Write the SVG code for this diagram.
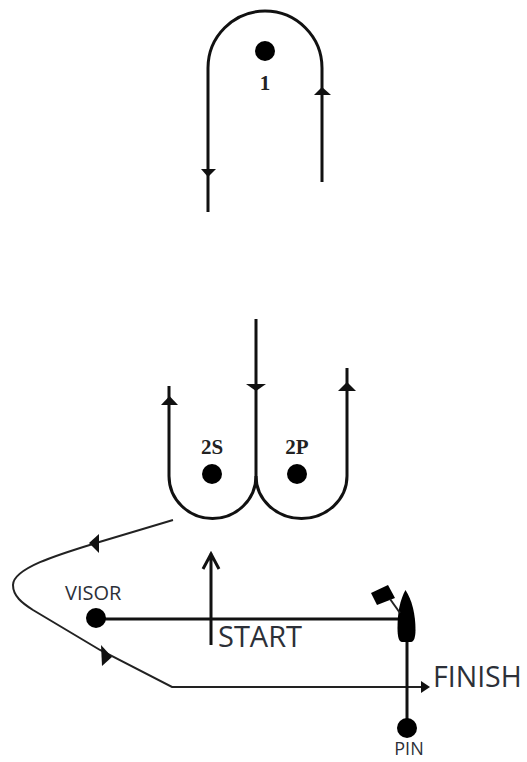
<svg xmlns="http://www.w3.org/2000/svg" width="527" height="762" viewBox="0 0 527 762">
<style>
.c{fill:none;stroke:#111;stroke-width:3}
.t{fill:#111;stroke:none}
.b{fill:#000}
.s{font-family:"Liberation Serif",serif;font-weight:bold;font-size:21px;fill:#222;text-anchor:middle}
.a{font-family:"Open Sans","Liberation Sans",sans-serif;fill:#2c3038}
</style>
<rect width="527" height="762" fill="#fff"/>
<g id="connectors">
<path class="c" d="M208 212V68A57 57 0 0 1 322 68V182"/>
<path class="t" d="M201 169H216L208 177Z"/>
<path class="t" d="M314 95H331L322 87Z"/>
<path class="c" d="M256 319V476A43.500 42.500 0 0 1 169 476V386"/>
<path class="c" d="M256 476A45.500 42.500 0 0 0 347 476V368"/>
<path class="t" d="M246 384H266L256 391Z"/>
<path class="t" d="M161 405H178L169.500 396Z"/>
<path class="t" d="M338 391H356L347 382Z"/>
<path d="M173 520L96 543C60 554 13 568 13 585C13 596 22 603 33 610L100 650L172 687H425" fill="none" stroke="#222" stroke-width="2"/>
<path class="t" d="M89 543L99 534V553Z"/>
<path class="t" d="M101 645L112 657L102 666Z"/>
<path class="t" d="M421 681L430 687L421 693Z"/>
<path class="c" d="M211 645V553M203 569L211 554L219 569"/>
<path class="c" d="M97 619H400" stroke-width="2.400"/>
<path class="c" d="M407 640V725" stroke-width="2.400"/>
</g>
<g id="mark-1"><circle class="b" cx="265" cy="51" r="10"/><text class="s" x="265" y="90">1</text></g>
<g id="mark-2s"><circle class="b" cx="212" cy="474" r="10"/><text class="s" x="212" y="454">2S</text></g>
<g id="mark-2p"><circle class="b" cx="297" cy="474" r="10"/><text class="s" x="297" y="454">2P</text></g>
<g id="visor"><circle class="b" cx="96" cy="618" r="10"/><text class="a" x="65" y="600" font-size="20">VISOR</text></g>
<g id="boat"><path class="b" d="M405.500 590C412 600 415.500 614 415.500 630C415.500 637 414 642 411 642H402C399 642 397.500 637 397.500 628C397.500 612 400 600 405.500 590Z"/><path class="b" d="M371 593L388 585L395 598L377 605Z"/><path d="M390 599L400 613" stroke="#222" stroke-width="2"/></g>
<g id="pin"><circle class="b" cx="407" cy="728" r="10"/><text class="a" x="409" y="755" font-size="18" text-anchor="middle">PIN</text></g>
<text class="a" x="218" y="647" font-size="29">START</text>
<text class="a" x="433" y="687" font-size="28.500">FINISH</text>
</svg>
